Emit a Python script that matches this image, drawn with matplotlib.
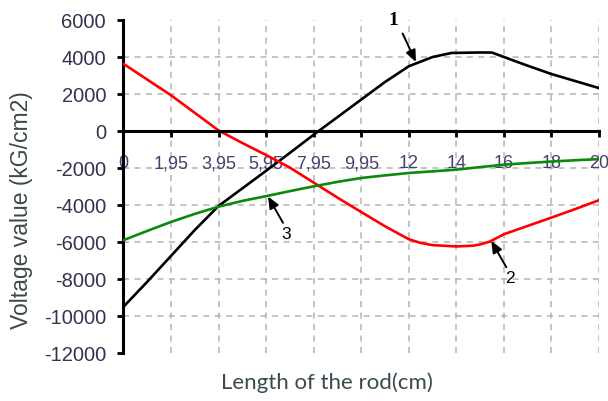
import matplotlib
matplotlib.use("Agg")
import matplotlib.pyplot as plt

# ---- data (x = position along the rod axis, 0..20) ----
x_black = [0, 1, 2, 3, 4, 5, 6, 7, 8, 9, 10, 11, 12, 13, 13.8, 15, 15.5, 16, 17, 18, 19, 20]
y_black = [-9500, -8150, -6750, -5350, -4050, -3100, -2150, -1180, -200, 750, 1700, 2650,
           3500, 4000, 4220, 4245, 4240, 4000, 3530, 3080, 2700, 2320]

x_red = [0, 1, 2, 3, 4, 5, 6, 7, 8, 9, 10, 11, 12, 12.5, 13, 14, 14.7, 15, 15.4, 16, 17, 18, 19, 20]
y_red = [3630, 2780, 1930, 980, 30, -650, -1300, -1980, -2790, -3600, -4380, -5150,
         -5850, -6050, -6170, -6240, -6200, -6130, -5980, -5580, -5130, -4680, -4220, -3740]

x_green = [0, 1, 2, 3, 4, 5, 6, 7, 8, 9, 10, 11, 12, 13, 14, 15, 16, 17, 18, 19, 20]
y_green = [-5900, -5400, -4915, -4480, -4090, -3780, -3520, -3250, -2990, -2750, -2540,
           -2400, -2270, -2180, -2090, -1950, -1820, -1730, -1650, -1580, -1520]

x_tick_pos = [0, 2, 4, 6, 8, 10, 12, 14, 16, 18, 20]
x_tick_labels = ["0", "1,95", "3,95", "5,95", "7,95", "9,95", "12", "14", "16", "18", "20"]
y_ticks = [6000, 4000, 2000, 0, -2000, -4000, -6000, -8000, -10000, -12000]

# annotations: label, text position, arrow tail, arrow head
annots = [
    ("1", (11.35, 5970), (11.74, 5270), (12.3, 3730)),
    ("2", (16.24, -7990), (16.1, -7365), (15.47, -5940)),
    ("3", (6.86, -5620), (6.71, -4965), (6.08, -3540)),
]

fig = plt.figure(figsize=(6.08, 4.01), dpi=100)
ax = fig.add_axes([0.2031, 0.1197, 0.9852 - 0.2031, 0.9501 - 0.1197])

ax.set_xlim(0, 20)
ax.set_ylim(-12000, 6000)

grid_kw = dict(color="#b4b4b4", lw=1.1, ls=(0, (4, 3.5)), zorder=0)
for v in x_tick_pos[1:]:
    ax.axvline(v, **grid_kw)
for v in y_ticks[1:-1]:
    if v != 0:
        ax.axhline(v, **grid_kw)

ax.plot(x_black, y_black, color="black", lw=1.9, zorder=3)
ax.plot(x_red, y_red, color="#ff0000", lw=1.9, zorder=3)
ax.plot(x_green, y_green, color="#0a8a0a", lw=1.9, zorder=3)

for s in ["top", "right"]:
    ax.spines[s].set_visible(False)
ax.spines["left"].set_linewidth(2.2)
ax.spines["bottom"].set_linewidth(2.2)
ax.spines["bottom"].set_position(("data", 0))
ax.spines["bottom"].set_zorder(4)

ax.set_xticks(x_tick_pos)
ax.set_xticklabels(x_tick_labels)
ax.set_yticks(y_ticks)
ax.set_yticklabels([str(v) for v in y_ticks])

ax.tick_params(axis="x", direction="out", length=4.5, width=2.0, pad=13,
               labelsize=13, labelcolor="#4a4070")
ax.tick_params(axis="y", direction="out", length=4.5, width=2.0, pad=8,
               labelsize=14.5, labelcolor="#3a3050")
for lab in ax.get_xticklabels() + ax.get_yticklabels():
    lab.set_fontfamily("Liberation Sans")

fig.text(0.036, 0.475, "Voltage value (kG/cm2)", rotation=90, ha="center", va="center",
         fontsize=16.5, family="Liberation Sans", color="#3a4a48")
fig.text(0.538, 0.045, "Length of the rod(cm)", ha="center", va="center",
         fontsize=16, family="Lato", color="#3a4a50")

for lab, tpos, tail, head in annots:
    if lab == "1":
        ax.text(tpos[0], tpos[1], lab, ha="center", va="center", fontsize=14,
                family="Liberation Serif", weight="bold", color="black", zorder=5)
    else:
        ax.text(tpos[0], tpos[1], lab, ha="center", va="center", fontsize=12.5,
                family="Liberation Sans", color="black", zorder=5)
    ax.annotate("", xy=head, xytext=tail,
                arrowprops=dict(arrowstyle="-|>,head_length=0.7,head_width=0.3",
                                color="black", lw=1.4, shrinkA=0, shrinkB=0),
                zorder=5)

fig.savefig("out.png", dpi=100)
